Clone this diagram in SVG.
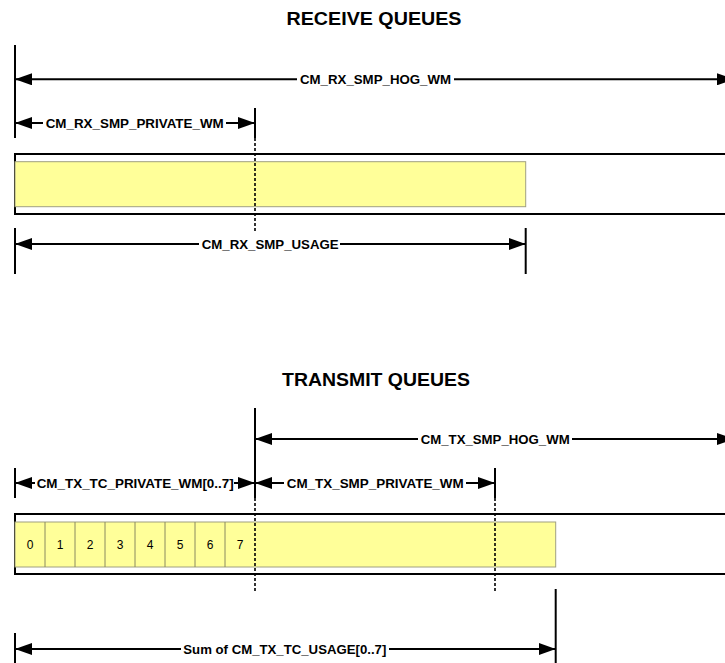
<svg xmlns="http://www.w3.org/2000/svg" width="725" height="663" viewBox="0 0 725 663">
  <defs>
    <marker id="ah" viewBox="0 0 17 12" markerWidth="17" markerHeight="12" refX="17" refY="6" orient="auto-start-reverse" markerUnits="userSpaceOnUse">
      <path d="M0,0 L17,6 L0,12 z" fill="#000"/>
    </marker>
  </defs>
  <style>
    .title { font-family: "Liberation Sans", Arial, sans-serif; font-weight: bold; font-size: 19px; fill: #000; }
    .lbl { font-family: "Liberation Sans", Arial, sans-serif; font-weight: bold; font-size: 13px; fill: #000; }
    .dig { font-family: "Liberation Sans", Arial, sans-serif; font-size: 12px; fill: #000; text-anchor: middle; }
    .tick { stroke: #000; stroke-width: 2; fill: none; }
    .dot { stroke: #000; stroke-width: 1.6; stroke-dasharray: 3 2; fill: none; }
    .arr { stroke: #000; stroke-width: 2; fill: none; }
    .s { marker-start: url(#ah); }
    .e { marker-end: url(#ah); }
    .outer { fill: #fff; stroke: #000; stroke-width: 2; }
    .fill { fill: #ffff99; stroke: #a0a080; stroke-width: 1; }
    .cell { stroke: #8a8a60; stroke-width: 1; }
  </style>
  <rect width="725" height="663" fill="#fff"/>

  <text class="title" x="374" y="25" text-anchor="middle" textLength="175" lengthAdjust="spacingAndGlyphs">RECEIVE QUEUES</text>
  <text class="title" x="376" y="386" text-anchor="middle" textLength="188" lengthAdjust="spacingAndGlyphs">TRANSMIT QUEUES</text>

  <!-- Receive buffer -->
  <g id="rx-buffer">
    <rect class="outer" x="15" y="154" width="730" height="60"/>
    <rect class="fill" x="15" y="161.7" width="510.7" height="45"/>
  </g>

  <!-- Transmit buffer -->
  <g id="tx-buffer">
    <rect class="outer" x="15" y="514" width="730" height="60"/>
    <rect class="fill" x="15" y="522" width="540.7" height="45"/>
    <g class="cell">
      <line x1="45" y1="522" x2="45" y2="567"/>
      <line x1="75" y1="522" x2="75" y2="567"/>
      <line x1="105" y1="522" x2="105" y2="567"/>
      <line x1="135" y1="522" x2="135" y2="567"/>
      <line x1="165" y1="522" x2="165" y2="567"/>
      <line x1="195" y1="522" x2="195" y2="567"/>
      <line x1="225" y1="522" x2="225" y2="567"/>
    </g>
    <text class="dig" x="30" y="548.5">0</text>
    <text class="dig" x="60" y="548.5">1</text>
    <text class="dig" x="90" y="548.5">2</text>
    <text class="dig" x="120" y="548.5">3</text>
    <text class="dig" x="150" y="548.5">4</text>
    <text class="dig" x="180" y="548.5">5</text>
    <text class="dig" x="210" y="548.5">6</text>
    <text class="dig" x="240" y="548.5">7</text>
  </g>

  <g id="connectors">
    <!-- RX ticks -->
    <line class="tick" x1="15" y1="45" x2="15" y2="138"/>
    <line class="tick" x1="255" y1="108" x2="255" y2="138"/>
    <line class="dot" x1="255" y1="138" x2="255" y2="231"/>
    <line class="tick" x1="15" y1="228" x2="15" y2="274"/>
    <line class="tick" x1="525.7" y1="228" x2="525.7" y2="274"/>
    <!-- RX arrows -->
    <line class="arr s" x1="15" y1="79.3" x2="297" y2="79.3"/>
    <line class="arr e" x1="454" y1="79.3" x2="734" y2="79.3"/>
    <line class="arr s" x1="15" y1="123" x2="43" y2="123"/>
    <line class="arr e" x1="226" y1="123" x2="255" y2="123"/>
    <line class="arr s" x1="15" y1="244" x2="199" y2="244"/>
    <line class="arr e" x1="340" y1="244" x2="525.7" y2="244"/>

    <!-- TX ticks -->
    <line class="tick" x1="255" y1="408" x2="255" y2="498"/>
    <line class="dot" x1="255" y1="498" x2="255" y2="591"/>
    <line class="tick" x1="15" y1="468" x2="15" y2="498"/>
    <line class="tick" x1="495" y1="468" x2="495" y2="498"/>
    <line class="dot" x1="495" y1="498" x2="495" y2="591"/>
    <line class="tick" x1="15" y1="633" x2="15" y2="663"/>
    <line class="tick" x1="555.7" y1="589" x2="555.7" y2="663"/>
    <!-- TX arrows -->
    <line class="arr s" x1="255" y1="439" x2="418" y2="439"/>
    <line class="arr e" x1="572" y1="439" x2="734" y2="439"/>
    <line class="arr s" x1="15" y1="483" x2="35" y2="483"/>
    <line class="arr e" x1="234" y1="483" x2="255" y2="483"/>
    <line class="arr s" x1="255" y1="483" x2="284" y2="483"/>
    <line class="arr e" x1="466" y1="483" x2="495" y2="483"/>
    <line class="arr s" x1="15" y1="649" x2="181" y2="649"/>
    <line class="arr e" x1="389" y1="649" x2="555.7" y2="649"/>
  </g>

  <g id="labels">
    <text class="lbl" x="300" y="84" textLength="151" lengthAdjust="spacingAndGlyphs">CM_RX_SMP_HOG_WM</text>
    <text class="lbl" x="45.7" y="127.7" textLength="178" lengthAdjust="spacingAndGlyphs">CM_RX_SMP_PRIVATE_WM</text>
    <text class="lbl" x="201.7" y="248.7" textLength="137" lengthAdjust="spacingAndGlyphs">CM_RX_SMP_USAGE</text>
    <text class="lbl" x="420.7" y="443.7" textLength="149" lengthAdjust="spacingAndGlyphs">CM_TX_SMP_HOG_WM</text>
    <text class="lbl" x="36.7" y="487.7" textLength="197" lengthAdjust="spacingAndGlyphs">CM_TX_TC_PRIVATE_WM[0..7]</text>
    <text class="lbl" x="286.7" y="487.7" textLength="177" lengthAdjust="spacingAndGlyphs">CM_TX_SMP_PRIVATE_WM</text>
    <text class="lbl" x="183.3" y="653.7" textLength="203" lengthAdjust="spacingAndGlyphs">Sum of CM_TX_TC_USAGE[0..7]</text>
  </g>
</svg>
